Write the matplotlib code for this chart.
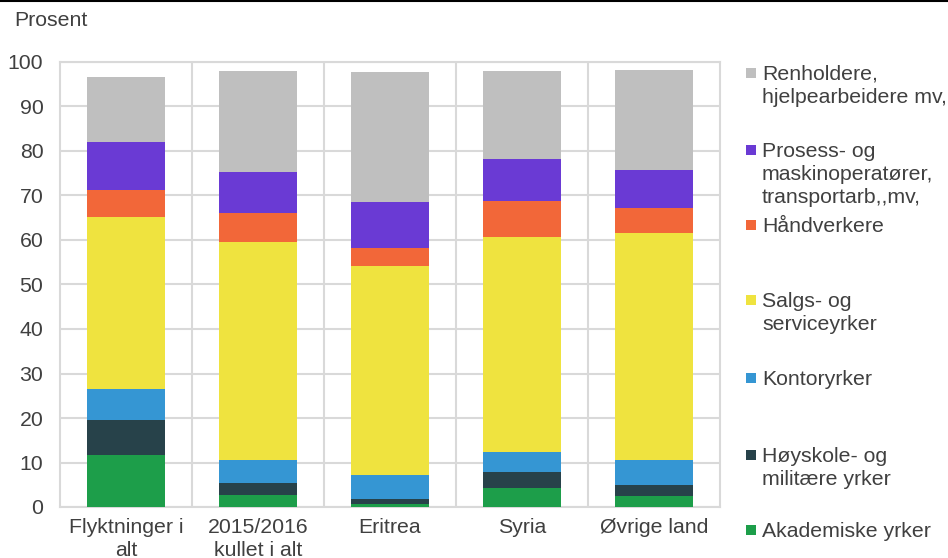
import matplotlib.pyplot as plt
from matplotlib.lines import Line2D
from matplotlib.patches import Rectangle

plt.rcParams['font.family'] = ['Liberation Sans', 'DejaVu Sans']

categories = ['Flyktninger i\nalt', '2015/2016\nkullet i alt', 'Eritrea', 'Syria', 'Øvrige land']

# segment values in percent, bottom to top
akademiske = [11.7, 2.8, 0.7, 4.3, 2.4]
hoyskole = [7.9, 2.7, 1.0, 3.6, 2.6]
kontor = [6.9, 5.1, 5.6, 4.5, 5.6]
salg = [38.7, 49.0, 46.9, 48.3, 51.0]
handverk = [6.0, 6.4, 4.1, 8.1, 5.5]
prosess = [10.8, 9.2, 10.3, 9.4, 8.6]
renhold = [14.6, 22.7, 29.1, 19.7, 22.5]

series = [
    ('Akademiske yrker', akademiske, '#1d9e4a'),
    ('Høyskole- og\nmilitære yrker', hoyskole, '#27424a'),
    ('Kontoryrker', kontor, '#3596d3'),
    ('Salgs- og\nserviceyrker', salg, '#efe33f'),
    ('Håndverkere', handverk, '#f26739'),
    ('Prosess- og\nmaskinoperatører,\ntransportarb,,mv,', prosess, '#6a3ad4'),
    ('Renholdere,\nhjelpearbeidere mv,', renhold, '#bfbfbf'),
]

text_col = '#404040'
grid_col = '#d9d9d9'
fs = 15.3


def plot():
    fig = plt.figure(figsize=(9.48, 5.58), dpi=100)
    W, H = 948, 558
    ax = fig.add_axes([60 / W, (H - 507) / H, 660 / W, 445 / H])

    x = list(range(len(categories)))
    bottom = [0.0] * len(categories)
    for name, vals, col in series:
        ax.bar(x, vals, width=0.59, bottom=bottom, color=col, linewidth=0, zorder=3)
        bottom = [b + v for b, v in zip(bottom, vals)]

    ax.set_xlim(-0.5, 4.5)
    ax.set_ylim(0, 100)
    ax.set_yticks(range(0, 101, 10))
    ax.set_xticks(x)
    ax.set_xticklabels(categories, fontsize=fs, color=text_col, linespacing=1.25)
    ax.tick_params(axis='y', labelsize=fs, labelcolor=text_col, length=0, pad=12)
    ax.tick_params(axis='x', length=0, pad=8)

    ax.set_xticks([i + 0.5 for i in range(len(categories) - 1)], minor=True)
    ax.tick_params(axis='x', which='minor', length=0)
    ax.grid(axis='y', which='major', color=grid_col, lw=1.5, zorder=0)
    ax.grid(axis='x', which='minor', color=grid_col, lw=1.5, zorder=0)
    for s in ax.spines.values():
        s.set_color(grid_col)
        s.set_linewidth(1.5)
        s.set_zorder(0)

    fig.text(14 / W, 1 - 21 / H, 'Prosent', fontsize=fs, color=text_col, va='center', ha='left')

    # legend drawn by hand, top entry first
    ys = [73, 150, 225, 300, 378, 455, 530]
    for (name, vals, col), yc in zip(series[::-1], ys):
        fig.add_artist(Rectangle((746 / W, 1 - (yc + 5) / H), 10 / W, 10 / H,
                                 transform=fig.transFigure, color=col, lw=0))
        fig.text(762 / W, 1 - (yc - 8) / H, name, fontsize=fs, color=text_col,
                 va='top', ha='left', linespacing=1.25)

    fig.add_artist(Line2D([0, 1], [1 - 1 / H, 1 - 1 / H], transform=fig.transFigure,
                          color='black', lw=1.5))

    fig.savefig('out.png', dpi=100)


def main():
    plot()


if __name__ == "__main__":
    main()
